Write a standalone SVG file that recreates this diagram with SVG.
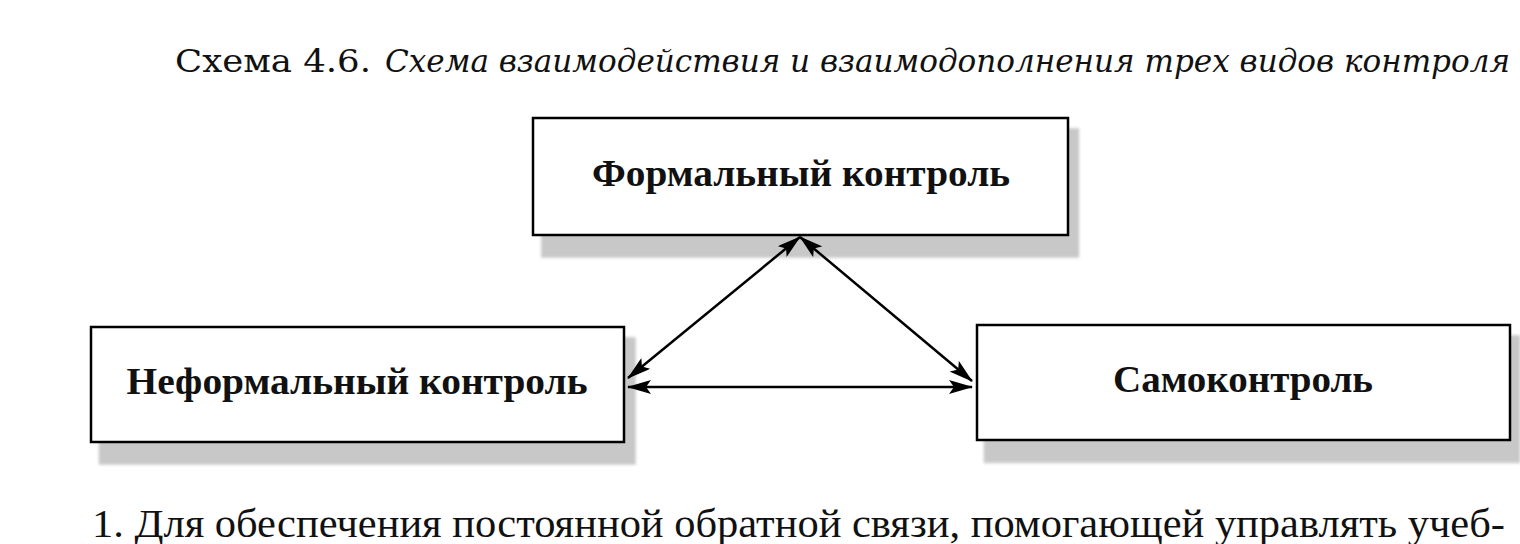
<svg xmlns="http://www.w3.org/2000/svg" width="1520" height="544" viewBox="0 0 1520 544">
<style>
.box{fill:#fff;stroke:#000;stroke-width:2.5}
.shadow{fill:url(#dots);filter:url(#soft)}
.lbl{font-family:"Liberation Serif","Times New Roman",serif;font-weight:bold;font-size:38px;fill:#111;text-anchor:middle}
.title{font-family:"DejaVu Serif","Liberation Serif",serif;font-size:31px;fill:#111}
.body{font-family:"Liberation Serif","Times New Roman",serif;font-size:41px;fill:#111}
.conn{stroke:#000;stroke-width:2.5;fill:none;marker-start:url(#ah);marker-end:url(#ah)}
</style>
<defs>
<pattern id="dots" width="3" height="3" patternUnits="userSpaceOnUse">
<rect width="3" height="3" fill="#dddddd"/>
<rect x="0" y="0" width="1.5" height="1.5" fill="#808080"/>
</pattern>
<filter id="soft" x="-5%" y="-20%" width="110%" height="140%">
<feGaussianBlur stdDeviation="1.5"/>
</filter>
<marker id="ah" viewBox="0 0 24 14" refX="23" refY="7" markerWidth="24" markerHeight="14" markerUnits="userSpaceOnUse" orient="auto-start-reverse">
<path d="M0,0 L24,7 L0,14 L5,7 Z" fill="#000"/>
</marker>
</defs>
<text class="title" y="72"><tspan x="175" textLength="196" lengthAdjust="spacingAndGlyphs">Схема 4.6.</tspan><tspan x="385" font-style="italic" textLength="1125" lengthAdjust="spacingAndGlyphs">Схема взаимодействия и взаимодополнения трех видов контроля</tspan></text>
<g id="node-formal">
<rect class="shadow" x="541" y="128" width="538" height="130"/>
<rect class="box" x="533" y="118" width="535" height="117"/>
<text class="lbl" x="801" y="186" textLength="418" lengthAdjust="spacingAndGlyphs">Формальный контроль</text>
</g>
<g id="node-informal">
<rect class="shadow" x="99" y="337" width="537" height="128"/>
<rect class="box" x="91" y="327" width="533" height="115"/>
<text class="lbl" x="357" y="394" textLength="461" lengthAdjust="spacingAndGlyphs">Неформальный контроль</text>
</g>
<g id="node-self">
<rect class="shadow" x="984" y="335" width="536" height="128"/>
<rect class="box" x="977" y="325" width="533" height="115"/>
<text class="lbl" x="1243" y="392" textLength="260" lengthAdjust="spacingAndGlyphs">Самоконтроль</text>
</g>
<g id="connectors">
<line class="conn" x1="800" y1="237" x2="628" y2="378"/>
<line class="conn" x1="800" y1="237" x2="972" y2="381"/>
<line class="conn" x1="628" y1="387" x2="972" y2="387"/>
</g>
<text class="body" x="92" y="537" textLength="1413" lengthAdjust="spacingAndGlyphs">1. Для обеспечения постоянной обратной связи, помогающей управлять учеб-</text>
</svg>
